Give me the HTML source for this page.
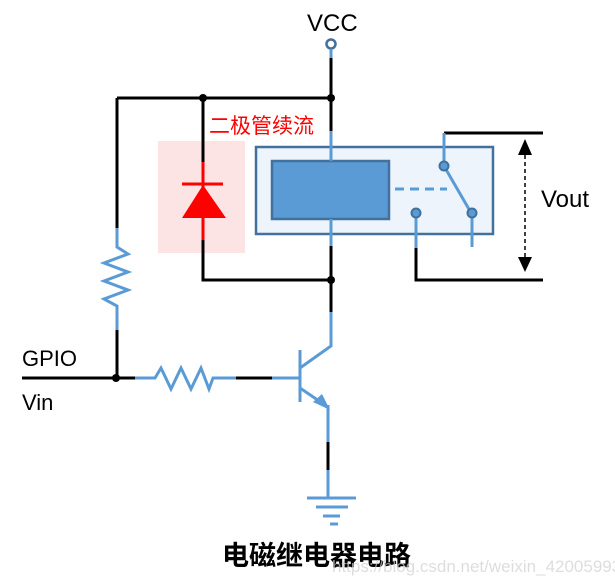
<!DOCTYPE html>
<html><head><meta charset="utf-8"><style>
html,body{margin:0;padding:0;background:#fff;width:615px;height:579px;overflow:hidden}
</style></head><body>
<svg width="615" height="579" viewBox="0 0 615 579" xmlns="http://www.w3.org/2000/svg" font-family="Liberation Sans, DejaVu Sans, sans-serif">
<rect x="158" y="141" width="87" height="112" fill="#fde4e4"/>
<g fill="none" stroke-width="3" stroke-linecap="butt">
<path d="M331 49 V131 M117 98 H331 M203 98 V162 M203 240 V280 H331 M331 246 V312 M117 98 V228 M117 330 V378 M22 378 H135 M236 378 H272 M416 248 V280 H543 M444 133 H543 M328 442 V470" stroke="#000"/>
<path d="M331 131 V161 M331 219 V246 M331 312 V346 L300 368 M300 350 V402 M300 388 L322 403 M328 405 V442 M328 470 V498 M272 378 H300 M135 378 H155 L161 368 L171 389 L181 368 L191 389 L201 368 L209 389 L213 378 H236 M117 228 V247 L128 254 L104 263 L128 272 L104 281 L128 290 L104 299 L117 306 V330" stroke="#5b9bd5"/>
<path d="M307 498 H356 M316 507 H348 M323 516 H340 M330 524 H338" stroke="#5b9bd5"/>
<path d="M203 162 V240 M182 184 H223" stroke="#f00"/>
</g>
<polygon points="203,185 182,218 226,218" fill="#f00"/>
<polygon points="330,410 313,402 322,394" fill="#5b9bd5"/>
<rect x="256" y="147" width="237" height="87" fill="#edf4fb" stroke="#41719c" stroke-width="2.5"/>
<rect x="272" y="161" width="117" height="58" fill="#5b9bd5" stroke="#41719c" stroke-width="2.5"/>
<g fill="none" stroke="#5b9bd5" stroke-width="3">
<path d="M331 131 V161 M331 219 V246 M444 133 V166 M444 166 L470 211 M472 213 V247 M416 213 V248"/>
<path d="M395 189 H447" stroke-dasharray="9 6"/>
</g>
<g fill="#5b9bd5" stroke="#41719c" stroke-width="2">
<circle cx="444" cy="166" r="4.5"/><circle cx="472" cy="213" r="4.5"/><circle cx="416" cy="213" r="4.5"/>
</g>
<circle cx="331" cy="44" r="4.5" fill="#fff" stroke="#41719c" stroke-width="2.5"/>
<path d="M331 49 V58" stroke="#5b9bd5" stroke-width="3"/>
<g fill="#000">
<circle cx="331" cy="98" r="4"/><circle cx="203" cy="98" r="4"/><circle cx="331" cy="280" r="4"/><circle cx="116" cy="378" r="4"/>
<polygon points="525,139 518,155 532,155"/><polygon points="525,272 518,257 532,257"/>
</g>
<path d="M525 155 V257" stroke="#000" stroke-width="1.5" stroke-dasharray="4 3"/>
<text x="307" y="31" font-size="24">VCC</text>
<text x="541" y="207" font-size="24">Vout</text>
<text x="22" y="366" font-size="22">GPIO</text>
<text x="22" y="410" font-size="22">Vin</text>
<text x="209" y="133" font-size="21" fill="#f00" font-family="Liberation Sans, Noto Sans CJK SC, sans-serif">二极管续流</text>
<text x="222" y="565" font-size="27" font-weight="bold" font-family="Liberation Sans, Noto Sans CJK SC, sans-serif">电磁继电器电路</text>
<text x="332" y="572" font-size="17" fill="#d0d0d0" opacity="0.7">https://blog.csdn.net/weixin_42005993</text>
</svg>
</body></html>
